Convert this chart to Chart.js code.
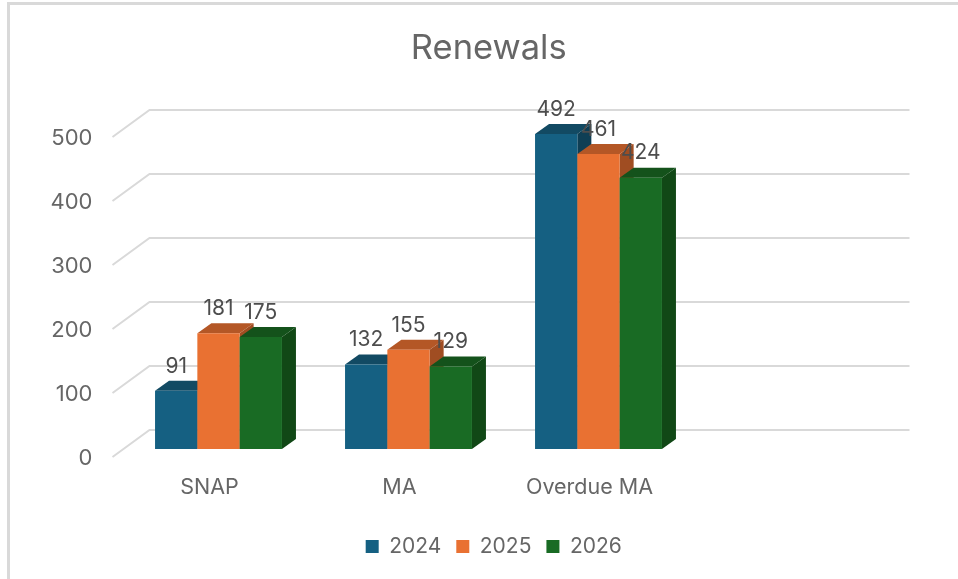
<!DOCTYPE html>
<html>
<head>
<meta charset="utf-8">
<title>Renewals</title>
<style>
    html, body { margin: 0; padding: 0; background: #ffffff; overflow: hidden; }
    #frame { position: absolute; left: 7px; top: 2px; width: 951px; height: 577px; border-left: 3px solid #d9d9d9; border-top: 3px solid #d9d9d9; box-sizing: border-box; }
    #renewals-chart { position: absolute; left: 0; top: 0; }
</style>
<script src="https://cdn.jsdelivr.net/npm/chart.js@4"></script>
</head>
<body>
<div id="frame"></div>
<canvas id="renewals-chart" width="958" height="579"></canvas>
<script>
// Chart data
const categories = ['SNAP', 'MA', 'Overdue MA', ''];
const yearLabels = ['2024', '2025', '2026'];
const values2024 = [91, 132, 492, null];
const values2025 = [181, 155, 461, null];
const values2026 = [175, 129, 424, null];
const yTicks = [0, 100, 200, 300, 400, 500];

const frontColors = ['#156082', '#e97132', '#196b24'];
const topColors = ['#124a63', '#b45726', '#14521b'];
const sideColors = ['#0f3f55', '#a04d22', '#114816'];

const FONT = 'Inter, sans-serif';
const TEXT_COLOR = '#666666';

// Bar depth and back wall offset, measured from the bar plane
const BAR_DX = 14, BAR_DY = 10;
const WALL_DX = 26, WALL_DY = 19;
const FLOOR_DX = 11, FLOOR_DY = 8;

function fillFace(ctx, points, color) {
    ctx.beginPath();
    points.forEach((p, i) => i ? ctx.lineTo(p[0], p[1]) : ctx.moveTo(p[0], p[1]));
    ctx.closePath();
    ctx.fillStyle = color;
    ctx.fill();
}

// Fake 3D: back wall gridlines, then extruded bars in dataset order
const threeDPlugin = {
    id: 'threeD',
    afterLayout(chart) {
        // Title and legend are centred on the whole frame, not on the plot
        chart.titleBlock.left += 27;
        chart.titleBlock.right += 27;
        chart.legend.left += 32;
        chart.legend.right += 32;
    },
    beforeDatasetsDraw(chart) {
        const ctx = chart.ctx;
        const { left, right } = chart.chartArea;
        const yScale = chart.scales.y;
        ctx.save();
        ctx.strokeStyle = '#d9d9d9';
        ctx.lineWidth = 2;
        yTicks.forEach(value => {
            const y = yScale.getPixelForValue(value);
            ctx.beginPath();
            ctx.moveTo(left - FLOOR_DX, y + FLOOR_DY);
            ctx.lineTo(left + WALL_DX, y - WALL_DY);
            ctx.lineTo(right + WALL_DX, y - WALL_DY);
            ctx.stroke();
        });
        ctx.restore();
    },
    beforeDatasetDraw() {
        return false; // bars are drawn below so the stacking order is left to right
    },
    afterDatasetsDraw(chart) {
        const ctx = chart.ctx;
        chart.data.datasets.forEach((dataset, i) => {
            chart.getDatasetMeta(i).data.forEach((bar, j) => {
                if (dataset.data[j] === null) return;
                const x0 = bar.x - bar.width / 2, x1 = bar.x + bar.width / 2;
                const top = bar.y, bottom = bar.base;
                fillFace(ctx, [[x1, top], [x1 + BAR_DX, top - BAR_DY], [x1 + BAR_DX, bottom - BAR_DY], [x1, bottom]], sideColors[i]);
                fillFace(ctx, [[x0, top], [x0 + BAR_DX, top - BAR_DY], [x1 + BAR_DX, top - BAR_DY], [x1, top]], topColors[i]);
                bar.draw(ctx);
            });
        });
        // Value labels go on top of every bar
        ctx.save();
        ctx.font = '21px ' + FONT;
        ctx.fillStyle = '#4d4d4d';
        ctx.textAlign = 'center';
        ctx.textBaseline = 'middle';
        chart.data.datasets.forEach((dataset, i) => {
            chart.getDatasetMeta(i).data.forEach((bar, j) => {
                if (dataset.data[j] === null) return;
                ctx.fillText(String(dataset.data[j]), bar.x, bar.y - 24.5);
            });
        });
        ctx.restore();
    }
};

const canvas = document.getElementById('renewals-chart');
new Chart(canvas.getContext('2d'), {
    type: 'bar',
    data: {
        labels: categories,
        datasets: [
            { label: yearLabels[0], data: values2024, backgroundColor: frontColors[0] },
            { label: yearLabels[1], data: values2025, backgroundColor: frontColors[1] },
            { label: yearLabels[2], data: values2026, backgroundColor: frontColors[2] }
        ]
    },
    plugins: [threeDPlugin],
    options: {
        responsive: false,
        animation: false,
        layout: { padding: { left: 40, right: 74.5, top: 0, bottom: 12 } },
        datasets: { bar: { categoryPercentage: 0.668, barPercentage: 1 } },
        scales: {
            x: {
                grid: { display: false, drawTicks: false },
                border: { display: false },
                afterFit(scale) { scale.height = 72; },
                ticks: {
                    color: TEXT_COLOR,
                    font: { family: FONT, size: 21.5 },
                    padding: 26,
                    labelOffset: -9,
                    maxRotation: 0,
                    autoSkip: false
                }
            },
            y: {
                min: 0,
                max: 500,
                grid: { display: false, drawTicks: false },
                border: { display: false },
                afterFit(scale) { scale.width = 83.5; },
                ticks: {
                    color: TEXT_COLOR,
                    font: { family: FONT, size: 22 },
                    stepSize: 100,
                    padding: 31,
                    labelOffset: 9
                }
            }
        },
        plugins: {
            title: {
                display: true,
                text: 'Renewals',
                color: TEXT_COLOR,
                font: { family: FONT, size: 34.5, weight: 'normal' },
                padding: { top: 28.3, bottom: 59.3 }
            },
            legend: {
                position: 'bottom',
                labels: {
                    color: TEXT_COLOR,
                    font: { family: FONT, size: 21 },
                    boxWidth: 13,
                    boxHeight: 13,
                    padding: 15
                }
            },
            tooltip: { enabled: false }
        }
    }
});
</script>
</body>
</html>
